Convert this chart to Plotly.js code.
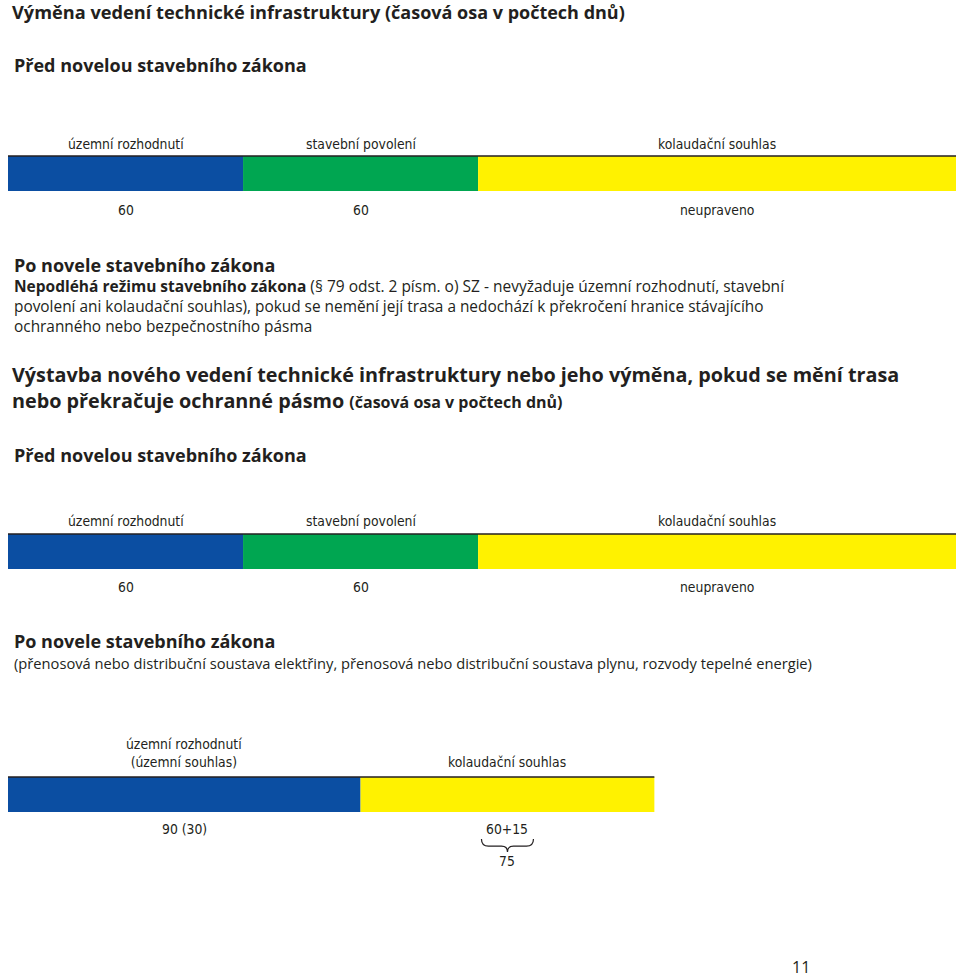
<!DOCTYPE html>
<html>
<head>
<meta charset="utf-8">
<script src="https://cdn.plot.ly/plotly-3.0.1.min.js"></script>
<style>html,body{margin:0;padding:0;background:#fff;}#chart{width:960px;height:979px;}</style>
</head>
<body>
<div id="chart"></div>
<script>
// ---- data ----
const stagesBefore = ['územní rozhodnutí', 'stavební povolení', 'kolaudační souhlas'];
const daysBefore = [60, 60, 122]; // last segment: unregulated, drawn length
const valueLabelsBefore = ['60', '60', 'neupraveno'];

const stagesAfter = ['územní rozhodnutí<br>(územní souhlas)', 'kolaudační souhlas'];
const daysAfter = [90, 75];
const valueLabelsAfter = ['90 (30)', '60+15'];
const braceTotal = '75';

const colorsBefore = ['#0b4ea2', '#00a651', '#fff200'];
const colorsAfter = ['#0b4ea2', '#fff200'];

// ---- helpers ----
const W = 960, H = 979;
const XR = 242; // x range in days
const X0 = 8, X1 = 956;
const px = v => v / W;
const py = v => 1 - v / H;
const TXT = '#231f20';
const BODY = 'Open Sans, Noto Sans, sans-serif';
const NARROW = 'Liberation Sans Narrow, DejaVu Sans Condensed, sans-serif';
const LBL = 13.8;

function bases(arr) { const b = []; let s = 0; arr.forEach(v => { b.push(s); s += v; }); return b; }

const traces = [];
const annotations = [];
const shapes = [];

function addBar(yaxis, stages, days, colors, valueLabels, labelY, valueY, labelAnchor) {
  const b = bases(days);
  stages.forEach((s, i) => {
    traces.push({
      type: 'bar', orientation: 'h', y: [0], x: [days[i]], base: [b[i]], width: 1,
      xaxis: 'x', yaxis: yaxis, name: s,
      marker: {color: colors[i], line: {width: 0}},
      hoverinfo: 'skip', showlegend: false
    });
    annotations.push({
      xref: 'x', yref: 'paper', x: b[i] + days[i] / 2, y: py(labelY),
      text: s, showarrow: false, xanchor: 'center', yanchor: labelAnchor,
      font: {family: NARROW, size: LBL, color: TXT}
    });
    annotations.push({
      xref: 'x', yref: 'paper', x: b[i] + days[i] / 2, y: py(valueY),
      text: valueLabels[i], showarrow: false, xanchor: 'center', yanchor: 'middle',
      font: {family: NARROW, size: LBL, color: TXT}
    });
  });
  const total = days.reduce((a, c) => a + c, 0);
  const yd = yaxis + ' domain';
  shapes.push({type: 'line', xref: 'x', yref: yd, x0: 0, x1: total, y0: 1, y1: 1,
    line: {color: '#231f20', width: 1.5}});
}

addBar('y', stagesBefore, daysBefore, colorsBefore, valueLabelsBefore, 144, 210, 'middle');
addBar('y2', stagesBefore, daysBefore, colorsBefore, valueLabelsBefore, 521, 587, 'middle');
addBar('y3', stagesAfter, daysAfter, colorsAfter, valueLabelsAfter, 772, 829, 'bottom');

// brace under "60+15"
const bAfter = bases(daysAfter);
const braceCenterPx = X0 + (bAfter[1] + daysAfter[1] / 2) * ((X1 - X0) / XR);
function bracePath(cx, hw, y0, h) {
  const P = (x, y) => px(x).toFixed(5) + ',' + py(y).toFixed(5);
  const ym = y0 + h * 0.55, yt = y0 + h;
  return 'M' + P(cx - hw, y0) +
    ' Q' + P(cx - hw, ym) + ' ' + P(cx - hw + 7, ym) +
    ' L' + P(cx - 6, ym) +
    ' Q' + P(cx, ym) + ' ' + P(cx, yt) +
    ' Q' + P(cx, ym) + ' ' + P(cx + 6, ym) +
    ' L' + P(cx + hw - 7, ym) +
    ' Q' + P(cx + hw, ym) + ' ' + P(cx + hw, y0);
}
shapes.push({type: 'path', xref: 'paper', yref: 'paper',
  path: bracePath(braceCenterPx, 26, 839, 13), line: {color: TXT, width: 1.2}});
annotations.push({xref: 'x', yref: 'paper', x: bAfter[1] + daysAfter[1] / 2, y: py(861),
  text: braceTotal, showarrow: false, xanchor: 'center', yanchor: 'middle',
  font: {family: NARROW, size: LBL, color: TXT}});

// ---- text blocks ----
function txt(x, y, text, size, opts) {
  annotations.push(Object.assign({xref: 'paper', yref: 'paper', x: px(x), y: py(y), text: text,
    showarrow: false, xanchor: 'left', yanchor: 'middle', align: 'left',
    font: {family: BODY, size: size, color: TXT}}, opts || {}));
}
const sized = (s, z) => '<span style="font-size:' + z + 'px">' + s + '</span>';

txt(10, 12, '<b>Výměna vedení technické infrastruktury</b> <b>' + sized('(časová osa v počtech dnů)', 18) + '</b>', 18.2);
txt(12, 65, '<b>Před novelou stavebního zákona</b>', 18);
txt(12, 265, '<b>Po novele stavebního zákona</b>', 18);
txt(12, 286, '<b>Nepodléhá režimu stavebního zákona</b> (§ 79 odst. 2 písm. o) SZ - nevyžaduje územní rozhodnutí, stavební', 15.5);
txt(12, 306, 'povolení ani kolaudační souhlas), pokud se nemění její trasa a nedochází k překročení hranice stávajícího', 15.4);
txt(12, 327, 'ochranného nebo bezpečnostního pásma', 15.4);
txt(10, 374, '<b>Výstavba nového vedení technické infrastruktury nebo jeho výměna, pokud se mění trasa</b>', 19.8);
txt(10, 401, '<b>nebo překračuje ochranné pásmo</b> <b>' + sized('(časová osa v počtech dnů)', 16) + '</b>', 19.8);
txt(12, 455, '<b>Před novelou stavebního zákona</b>', 18);
txt(12, 641, '<b>Po novele stavebního zákona</b>', 18);
txt(12, 663, '(přenosová nebo distribuční soustava elektřiny, přenosová nebo distribuční soustava plynu, rozvody tepelné energie)', 14.7);
txt(801, 967, '11', 16, {xanchor: 'center'});

const yax = (d) => ({domain: d, range: [-0.5, 0.5], visible: false, fixedrange: true, anchor: 'x'});
const layout = {
  width: W, height: H,
  margin: {l: 0, r: 0, t: 0, b: 0, pad: 0},
  paper_bgcolor: '#ffffff', plot_bgcolor: 'rgba(0,0,0,0)',
  barmode: 'overlay', showlegend: false,
  xaxis: {domain: [px(X0), px(X1)], range: [0, XR], visible: false, fixedrange: true, anchor: 'y'},
  yaxis: yax([py(191), py(156)]),
  yaxis2: yax([py(569), py(534)]),
  yaxis3: yax([py(812), py(777)]),
  annotations: annotations,
  shapes: shapes
};
Plotly.newPlot('chart', traces, layout, {staticPlot: true, displayModeBar: false});
</script>
</body>
</html>
